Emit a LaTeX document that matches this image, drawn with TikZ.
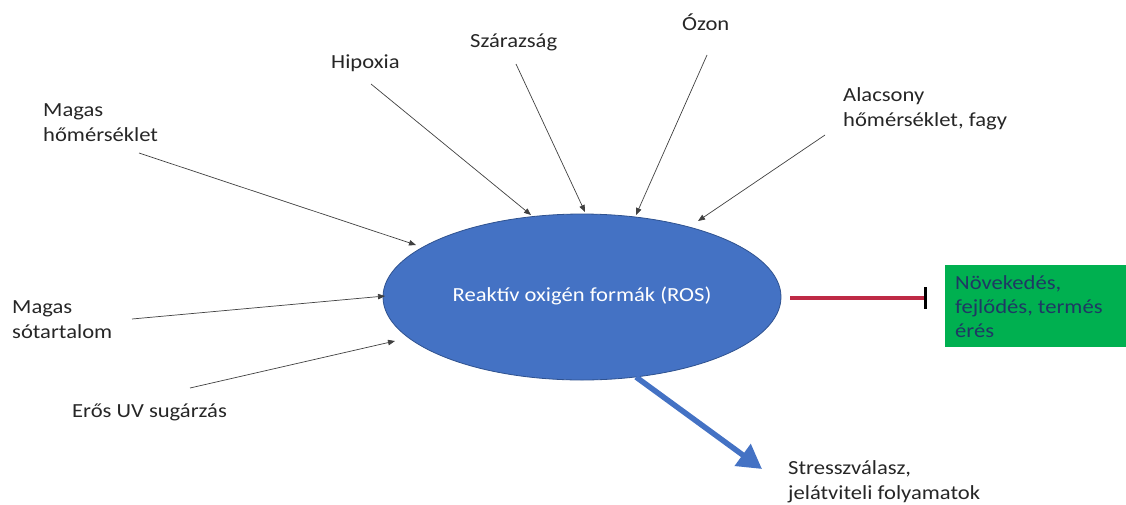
\documentclass[tikz,border=0pt]{standalone}
\usepackage{fontspec}
\usepackage{graphicx}
\setmainfont{Carlito}
\usetikzlibrary{shapes.geometric,arrows.meta}
\definecolor{rosblue}{HTML}{4472C4}
\definecolor{rosedge}{HTML}{2F528F}
\definecolor{inhred}{HTML}{BE2A45}
\definecolor{boxgreen}{HTML}{00B050}
\definecolor{boxtext}{HTML}{1F3864}
\definecolor{txt}{HTML}{262626}
\definecolor{thin}{HTML}{404040}
\newcommand\hs[1]{\scalebox{1.13}[1]{\begin{tabular}[t]{@{}l@{}}#1\end{tabular}}}
\begin{document}
\begin{tikzpicture}[x=1pt,y=-1pt,
  lbl/.style={font=\fontsize{20}{25}\selectfont, text=txt, inner sep=0pt, anchor=base west},
  feed/.style={draw=thin, line width=0.7pt, -{Triangle[length=7pt,width=5.5pt]}}]
\useasboundingbox (0,0) rectangle (1126,504);
\clip (0,0) rectangle (1126,504);
% central ellipse
\node[ellipse, draw=rosedge, line width=0.8pt, fill=rosblue, minimum width=398pt, minimum height=166pt, inner sep=0pt,
  text=white, font=\fontsize{20}{24}\selectfont] (ros) at (582,297) {\hs{Reaktív oxigén formák (ROS)}};
% labels
\node[lbl] (mh) at (43,116) {\hs{Magas\\hőmérséklet}};
\node[lbl] (hip) at (331,68) {\hs{Hipoxia}};
\node[lbl] (sza) at (470,47) {\hs{Szárazság}};
\node[lbl] (ozo) at (682,30) {\hs{Ózon}};
\node[lbl] (ala) at (843,101) {\hs{Alacsony\\hőmérséklet, fagy}};
\node[lbl] (ms) at (12,313) {\hs{Magas\\sótartalom}};
\node[lbl] (uv) at (72,417) {\hs{Erős UV sugárzás}};
\node[lbl] (str) at (788,474) {\hs{Stresszválasz,\\jelátviteli folyamatok}};
% green box
\node[rectangle, fill=boxgreen, anchor=north west, minimum width=181pt, minimum height=82pt, inner sep=0pt] (gbox) at (945,265) {};
\node[lbl, text=boxtext, font=\fontsize{20}{24}\selectfont] (gtxt) at (955,289) {\hs{Növekedés,\\fejlődés, termés\\érés}};
% connector coordinates
\coordinate (mhs) at (139,153); \coordinate (mhe) at (416,245);
\coordinate (hips) at (371,84); \coordinate (hipe) at (531,215);
\coordinate (szas) at (516,64); \coordinate (szae) at (585,212);
\coordinate (ozos) at (707,55); \coordinate (ozoe) at (636,215);
\coordinate (alas) at (825,135); \coordinate (alae) at (698,221);
\coordinate (mss) at (132,319); \coordinate (mse) at (385,296);
\coordinate (uvs) at (190,388); \coordinate (uve) at (395,341);
\coordinate (reds) at (790,298); \coordinate (rede) at (927,298);
\coordinate (blus) at (636,377); \coordinate (blue) at (762,469);
% thin arrows
\draw[feed] (mhs) -- (mhe);
\draw[feed] (hips) -- (hipe);
\draw[feed] (szas) -- (szae);
\draw[feed] (ozos) -- (ozoe);
\draw[feed] (alas) -- (alae);
\draw[feed] (mss) -- (mse);
\draw[feed] (uvs) -- (uve);
% inhibition
\draw[draw=inhred, line width=4.5pt, -{Bar[width=22pt, line width=3pt, black]}] (reds) -- (rede);
% blue arrow
\draw[draw=rosblue, line width=5.5pt, -{Triangle[length=24pt,width=26pt]}] (blus) -- (blue);
\end{tikzpicture}
\end{document}
